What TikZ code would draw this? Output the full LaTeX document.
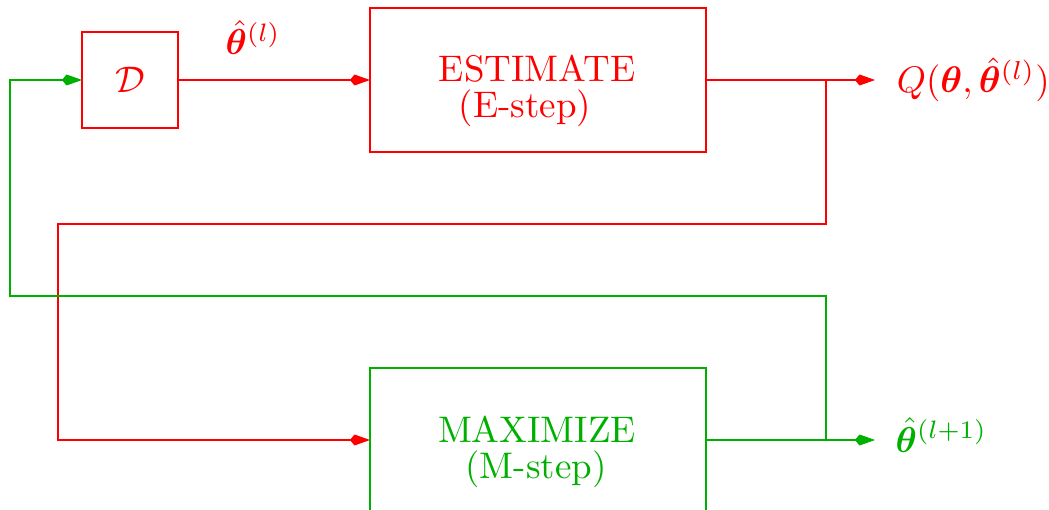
\documentclass[tikz,border=0pt]{standalone}
\usepackage{amsmath,bm}
\usetikzlibrary{arrows.meta}
\definecolor{myred}{RGB}{255,0,0}
\definecolor{mygreen}{RGB}{0,176,0}
\tikzset{
  box/.style={draw, line width=1.1pt, inner sep=0pt, outer sep=0pt},
  kitetip/.style={-{Kite[length=20pt,width=11pt,inset=4.5pt]}},
  wire/.style={line width=1.1pt},
  big/.style={scale=3.6, inner sep=0pt},
  boxtext/.style={scale=3.7, inner sep=0pt}
}
\begin{document}
\begin{tikzpicture}[x=1pt,y=-1pt]
\useasboundingbox (0,0) rectangle (1049,510);
\clip (0,0) rectangle (1049,510);
% boxes
\node[box, myred, minimum width=96pt, minimum height=96pt] (D) at (130,80) {};
\node[boxtext, myred] (Dlab) at (D.center) {$\mathcal{D}$};
\node[box, myred, minimum width=336pt, minimum height=144pt] (E) at (538,80) {};
\node[boxtext, myred, anchor=base] (E1) at (537,82) {ESTIMATE};
\node[boxtext, myred, anchor=base] (E2) at (525,118) {(E-step)};
\node[box, mygreen, minimum width=336pt, minimum height=144pt] (M) at (538,440) {};
\node[boxtext, mygreen, anchor=base] (M1) at (537,442) {MAXIMIZE};
\node[boxtext, mygreen, anchor=base] (M2) at (536,478) {(M-step)};
% labels
\node[big, myred, anchor=base west] (thl) at (225,55) {$\hat{\bm{\theta}}^{(l)}$};
\node[boxtext, myred, anchor=base west] (Q) at (896,93) {$Q(\bm{\theta},\hat{\bm{\theta}}^{(l)})$};
\node[big, mygreen, anchor=base west] (thn) at (895,452) {$\hat{\bm{\theta}}^{(l+1)}$};
% coordinates
\coordinate (Qtip) at (875,80);
\coordinate (Ttip) at (875,440);
\coordinate (r1) at (826,80);
\coordinate (r2) at (826,224);
\coordinate (r3) at (58,224);
\coordinate (r4) at (58,440);
\coordinate (g1) at (826,440);
\coordinate (g2) at (826,296);
\coordinate (g3) at (10,296);
\coordinate (g4) at (10,80);
% connectors
\draw[wire, myred, kitetip] (D.east) -- (E.west);
\draw[wire, myred, kitetip] (E.east) -- (Qtip);
\draw[wire, myred, kitetip] (r1) -- (r2) -- (r3) -- (r4) -- (M.west);
\draw[wire, mygreen, kitetip] (M.east) -- (Ttip);
\draw[wire, mygreen, kitetip] (g1) -- (g2) -- (g3) -- (g4) -- (D.west);
\end{tikzpicture}
\end{document}
